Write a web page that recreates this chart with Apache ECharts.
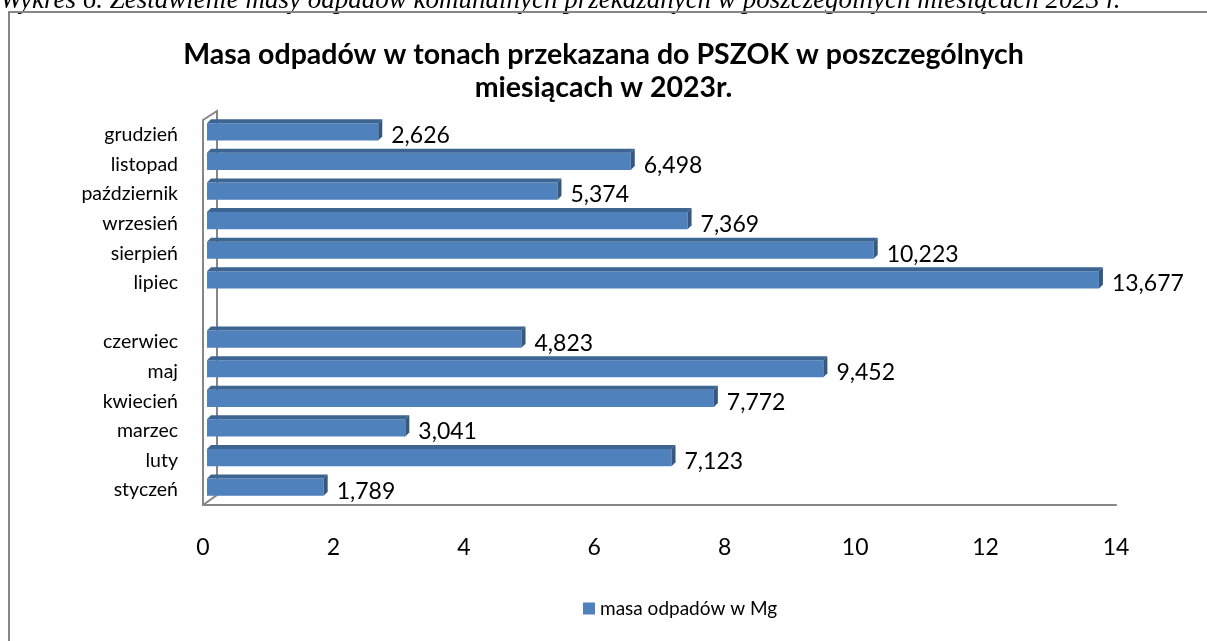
<!DOCTYPE html>
<html>
<head>
<meta charset="utf-8">
<script src="https://cdn.jsdelivr.net/npm/echarts@6/dist/echarts.min.js"></script>
<style>
  html, body { margin: 0; padding: 0; background: #fff; }
  #chart { width: 1207px; height: 641px; }
</style>
</head>
<body>
<div id="chart"></div>
<script>
// dane: miesiące od dołu do góry (pusta kategoria = przerwa między czerwcem a lipcem)
const months = ['styczeń', 'luty', 'marzec', 'kwiecień', 'maj', 'czerwiec', '',
  'lipiec', 'sierpień', 'wrzesień', 'październik', 'listopad', 'grudzień'];
const masa = [1.789, 7.123, 3.041, 7.772, 9.452, 4.823, null,
  13.677, 10.223, 7.369, 5.374, 6.498, 2.626];
const xTicks = [0, 2, 4, 6, 8, 10, 12, 14];

const seriesData = [];
masa.forEach(function (v, i) {
  if (v !== null) seriesData.push([v, i]);
});

const chart = echarts.init(document.getElementById('chart'));

// słupek z efektem 3D (przód, góra, bok)
function renderBar(params, api) {
  const v = api.value(0);
  const cat = api.value(1);
  const start = api.coord([0, cat]);
  const end = api.coord([v, cat]);
  const band = api.size([0, 1])[1];
  const h = band * 0.58;
  const ox = 4, oy = -3, dx = 4, dy = -4;
  const x0 = start[0] + ox, x1 = end[0] + ox;
  const top = start[1] + oy - h / 2, bot = start[1] + oy + h / 2;
  return {
    type: 'group',
    children: [
      { type: 'rect', shape: { x: x0, y: top, width: x1 - x0, height: h }, style: { fill: '#4F81BD' } },
      { type: 'polygon', shape: { points: [[x0, top], [x0 + dx, top + dy], [x1 + dx, top + dy], [x1, top]] }, style: { fill: '#3D6592' } },
      { type: 'polygon', shape: { points: [[x1, top], [x1 + dx, top + dy], [x1 + dx, bot + dy], [x1, bot]] }, style: { fill: '#35587F' } },
      {
        type: 'text',
        style: {
          x: x1 + dx + 9, y: start[1] + 1,
          text: v.toFixed(3).replace('.', ','),
          fill: '#000', font: '23px Lato', verticalAlign: 'middle', align: 'left'
        }
      }
    ]
  };
}

const option = {
  backgroundColor: '#fff',
  animation: false,
  title: {
    text: 'Masa odpadów w tonach przekazana do PSZOK w poszczególnych\nmiesiącach w 2023r.',
    left: 'center',
    top: 33,
    textStyle: { fontFamily: 'Lato', fontWeight: 'bold', fontSize: 28.5, lineHeight: 33, color: '#000' }
  },
  legend: {
    left: 578,
    top: 594,
    itemWidth: 12,
    itemHeight: 12,
    itemGap: 6,
    icon: 'rect',
    data: ['masa odpadów w Mg'],
    textStyle: { fontFamily: 'Lato', fontSize: 19, color: '#000' }
  },
  grid: { left: 203, right: 91, top: 120, bottom: 136 },
  xAxis: {
    type: 'value',
    min: 0,
    max: 14,
    interval: 2,
    axisLine: { show: true, lineStyle: { color: '#868686', width: 2 } },
    axisTick: { show: false },
    splitLine: { show: false },
    axisLabel: {
      margin: 31,
      fontFamily: 'Lato',
      fontSize: 23,
      color: '#000',
      formatter: function (val) { return xTicks.indexOf(val) >= 0 ? String(val) : ''; }
    }
  },
  yAxis: {
    type: 'category',
    data: months,
    axisLine: { show: true, lineStyle: { color: '#868686', width: 2 } },
    axisTick: { show: false },
    axisLabel: { margin: 25, fontFamily: 'Lato', fontSize: 19.5, color: '#000' }
  },
  graphic: [
    {
      type: 'text', z: 0, left: 0, top: -13,
      style: {
        text: 'Wykres 6. Zestawienie masy odpadów komunalnych przekazanych w poszczególnych miesiącach 2023 r.',
        font: 'italic 27px "Liberation Serif"', fill: '#000'
      }
    },
    {
      type: 'rect', z: 0,
      shape: { x: 9, y: 12, width: 1400, height: 800 },
      style: { fill: null, stroke: '#868686', lineWidth: 2 }
    },
    // tylna ściana i podłoga
    {
      type: 'polyline', z: 0,
      shape: { points: [[203, 120], [217, 111], [217, 495], [203, 505]] },
      style: { fill: null, stroke: '#868686', lineWidth: 2 }
    }
  ],
  series: [
    {
      name: 'masa odpadów w Mg',
      type: 'custom',
      color: '#4F81BD',
      renderItem: renderBar,
      encode: { x: 0, y: 1 },
      data: seriesData
    }
  ]
};

chart.setOption(option);
</script>
</body>
</html>
